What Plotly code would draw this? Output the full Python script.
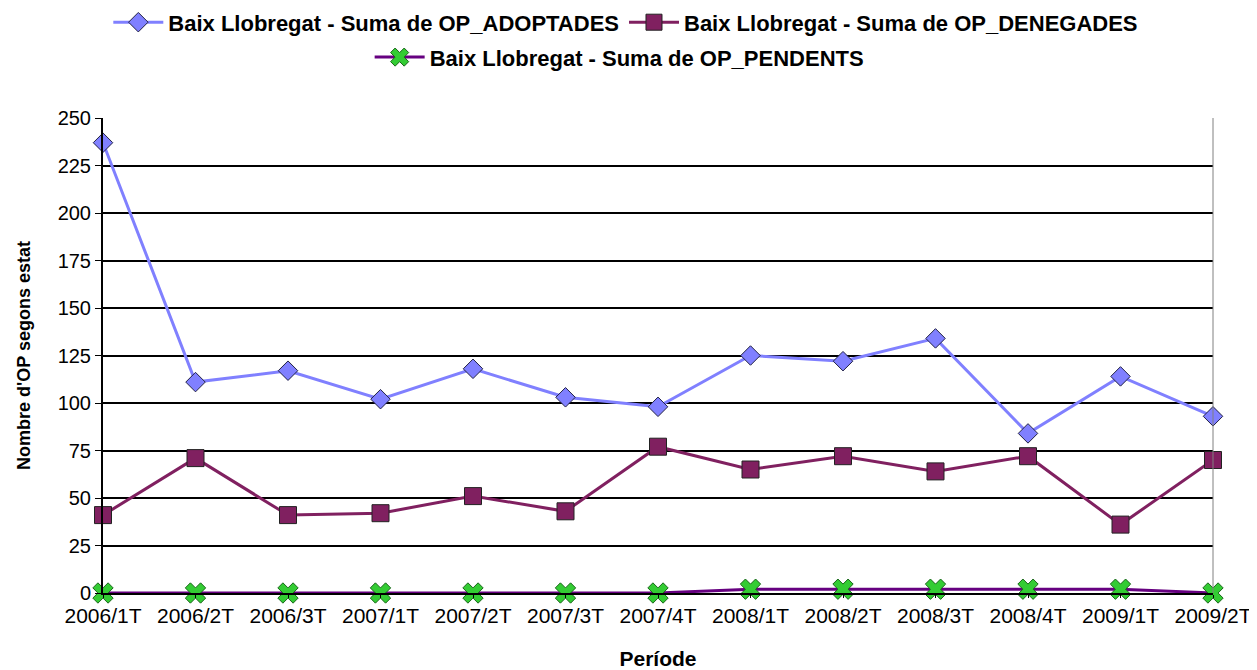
import plotly.graph_objects as go

periods = ["2006/1T", "2006/2T", "2006/3T", "2007/1T", "2007/2T", "2007/3T", "2007/4T",
           "2008/1T", "2008/2T", "2008/3T", "2008/4T", "2009/1T", "2009/2T"]
adoptades = [237, 111, 117, 102, 118, 103, 98, 125, 122, 134, 84, 114, 93]
denegades = [41, 71, 41, 42, 51, 43, 77, 65, 72, 64, 72, 36, 70]
pendents = [0, 0, 0, 0, 0, 0, 0, 2, 2, 2, 2, 2, 0]

names = ["Baix Llobregat - Suma de OP_ADOPTADES",
         "Baix Llobregat - Suma de OP_DENEGADES",
         "Baix Llobregat - Suma de OP_PENDENTS"]

xidx = list(range(len(periods)))
FONT = "Liberation Sans, Arial, sans-serif"

fig = go.Figure()
fig.add_trace(go.Scatter(
    x=xidx, y=pendents, name=names[2], mode="lines+markers", legend="legend2",
    line=dict(color="#660080", width=3),
    marker=dict(symbol="x", size=18, color="#33cc33", line=dict(color="#1a661a", width=1)),
    cliponaxis=False))
fig.add_trace(go.Scatter(
    x=xidx, y=denegades, name=names[1], mode="lines+markers",
    line=dict(color="#802060", width=3),
    marker=dict(symbol="square", size=17, color="#802060", line=dict(color="#222222", width=1)),
    cliponaxis=False))
fig.add_trace(go.Scatter(
    x=xidx, y=adoptades, name=names[0], mode="lines+markers",
    line=dict(color="#8080ff", width=3),
    marker=dict(symbol="diamond", size=15, color="#8080ff", line=dict(color="#222244", width=1)),
    cliponaxis=False))

# page has an 8px body margin, so the figure is 1249x662 placed at (8, 8)
fig.update_layout(
    width=1249, height=662,
    margin=dict(l=95, r=44, t=110, b=77, autoexpand=False),
    paper_bgcolor="white", plot_bgcolor="white",
    font=dict(family=FONT, color="black", size=19),
    legend=dict(orientation="h", x=0.471, xanchor="center", y=1.2455, yref="paper", yanchor="top",
                font=dict(size=22, family=FONT, weight="bold"), traceorder="reversed",
                itemwidth=50, tracegroupgap=0, bgcolor="rgba(0,0,0,0)"),
    legend2=dict(orientation="h", x=0.465, xanchor="center", y=1.172, yref="paper", yanchor="top",
                 font=dict(size=22, family=FONT, weight="bold"), itemwidth=50,
                 bgcolor="rgba(0,0,0,0)"),
    xaxis=dict(
        range=[0, 12], tickmode="array", tickvals=xidx, ticktext=periods, automargin=False,
        showgrid=False, showline=True, linecolor="black", linewidth=2,
        ticks="outside", ticklen=3, tickcolor="black", zeroline=False,
        tickfont=dict(size=21, family=FONT),
        title=dict(text="<b>Període</b>", font=dict(size=21, family=FONT), standoff=27)),
    yaxis=dict(
        range=[0, 250], tickmode="linear", tick0=0, dtick=25, automargin=False,
        showgrid=True, gridcolor="black", gridwidth=1.5,
        showline=True, linecolor="black", linewidth=2,
        ticks="outside", ticklen=6, tickcolor="black", zeroline=False,
        tickfont=dict(size=20, family=FONT),
        title=dict(text="<b>Nombre d'OP segons estat</b>", font=dict(size=18, family=FONT), standoff=22)),
    shapes=[dict(type="line", xref="paper", yref="paper", x0=1, x1=1, y0=0, y1=1,
                 line=dict(color="#808080", width=1))],
    showlegend=True,
)

fig.write_html("out.html")
